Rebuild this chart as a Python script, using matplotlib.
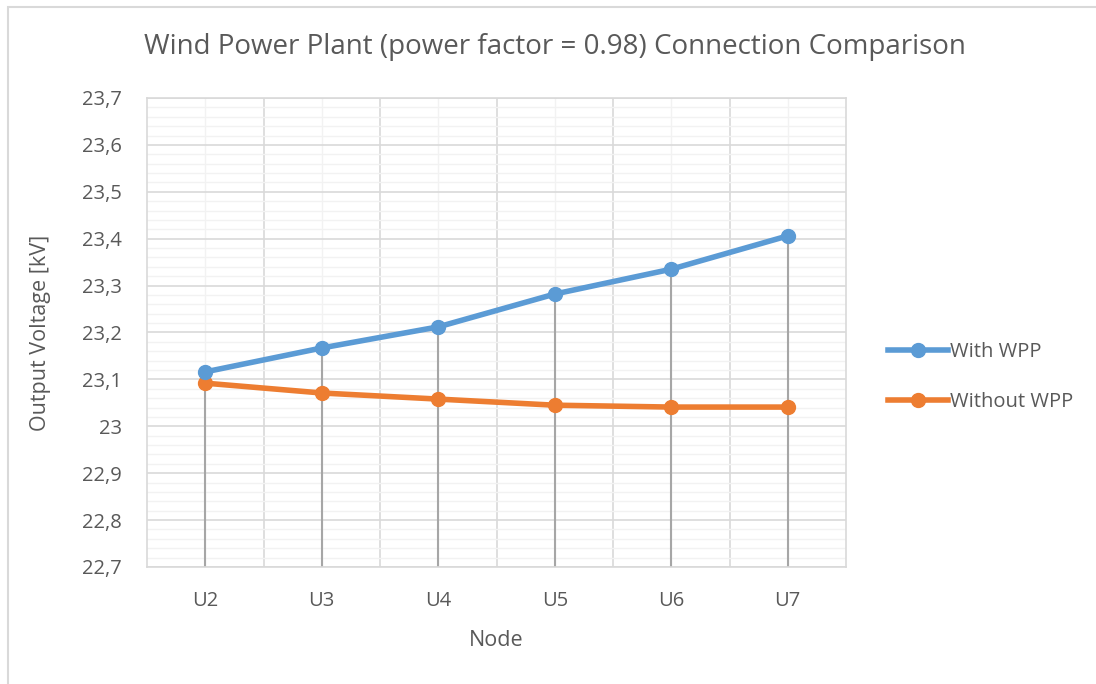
import matplotlib.pyplot as plt
from matplotlib.patches import Rectangle
from matplotlib.ticker import MultipleLocator, FuncFormatter

nodes = ["U2", "U3", "U4", "U5", "U6", "U7"]
with_wpp = [23.116, 23.167, 23.212, 23.282, 23.335, 23.406]
without_wpp = [23.092, 23.071, 23.058, 23.045, 23.041, 23.041]

plt.rcParams['font.family'] = ['Open Sans', 'DejaVu Sans']
txt = '#595959'

fig = plt.figure(figsize=(10.96, 6.84), dpi=100)
# outer chart border (cut off at right/bottom like the screenshot)
fig.patches.append(Rectangle((8/1096, -0.1), 1.2, (684-7)/684 + 0.1, transform=fig.transFigure,
                             fill=False, edgecolor='#d9d9d9', lw=1.5))

ax = fig.add_axes([147/1096, 117/684, 699/1096, 469/684])
x = list(range(len(nodes)))

ax.set_xlim(-0.5, len(nodes) - 0.5)
ax.set_ylim(22.7, 23.7)
ax.yaxis.set_major_locator(MultipleLocator(0.1))
ax.yaxis.set_minor_locator(MultipleLocator(0.02))
ax.yaxis.set_major_formatter(FuncFormatter(lambda v, p: ('%g' % round(v, 1)).replace('.', ',')))
ax.set_xticks(x)
ax.set_xticklabels(nodes)
ax.set_xticks([i + 0.5 for i in x[:-1]], minor=True)

ax.grid(which='major', axis='y', color='#d9d9d9', lw=1.2)
ax.grid(which='minor', axis='y', color='#f2f2f2', lw=1.0)
ax.grid(which='minor', axis='x', color='#d9d9d9', lw=1.2)
ax.grid(which='major', axis='x', color='#f2f2f2', lw=1.0)
ax.set_axisbelow(True)
for s in ax.spines.values():
    s.set_color('#d9d9d9')
    s.set_linewidth(1.2)
ax.tick_params(which='both', length=0, labelsize=14.5, labelcolor=txt)
ax.tick_params(axis='x', pad=17)
ax.tick_params(axis='y', pad=18)

# drop lines
top = [max(a, b) for a, b in zip(with_wpp, without_wpp)]
ax.vlines(x, 22.7, top, color='#a6a6a6', lw=1.5, zorder=2)

ax.plot(x, with_wpp, color='#5b9bd5', lw=4, marker='o', ms=10, label='With WPP', zorder=4)
ax.plot(x, without_wpp, color='#ed7d31', lw=4, marker='o', ms=10, label='Without WPP', zorder=3)

ax.set_xlabel('Node', fontsize=15.5, color=txt, labelpad=14)
ax.set_ylabel('Output Voltage [kV]', fontsize=15.5, color=txt, labelpad=22)
fig.text(555/1096, 1 - 47/684, 'Wind Power Plant (power factor = 0.98) Connection Comparison',
         ha='center', va='center', fontsize=20, color=txt)

leg = ax.legend(loc='center left', bbox_to_anchor=(1.034, 0.405), frameon=False, fontsize=14.5,
                handlelength=3.0, handletextpad=0.1, labelspacing=1.45)
for t in leg.get_texts():
    t.set_color(txt)

fig.savefig('out.png', dpi=100)
